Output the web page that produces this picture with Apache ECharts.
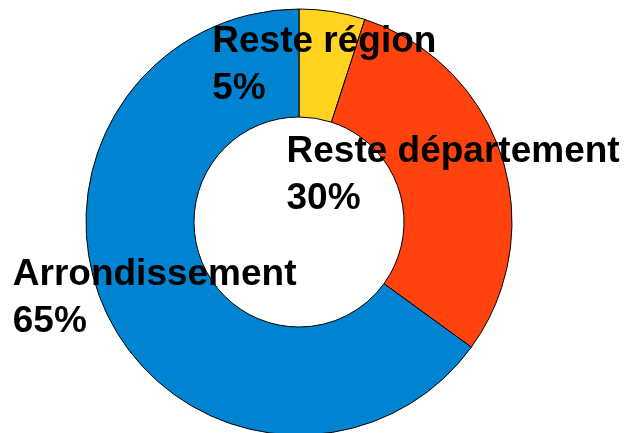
<!DOCTYPE html>
<html>
<head>
<meta charset="utf-8">
<script src="https://cdn.jsdelivr.net/npm/echarts@6/dist/echarts.min.js"></script>
<style>
html,body{margin:0;padding:0;background:#fff;}
#c{width:625px;height:433px;}
</style>
</head>
<body>
<div id="c"></div>
<script>
var categories = ['Reste région', 'Reste département', 'Arrondissement'];
var values = [5, 30, 65];
var colors = ['#FFD320', '#FF420E', '#0084D1'];

var chart = echarts.init(document.getElementById('c'), null, {renderer: 'canvas'});
chart.setOption({
  animation: false,
  backgroundColor: '#ffffff',
  series: [{
    type: 'pie',
    center: [299, 222],
    radius: [105, 213],
    startAngle: 90,
    clockwise: true,
    avoidLabelOverlap: false,
    percentPrecision: 0,
    silent: true,
    itemStyle: {borderColor: '#000000', borderWidth: 1},
    label: {
      show: true,
      position: 'inside',
      formatter: '{b}\n{d}%',
      color: '#000000',
      fontFamily: 'Liberation Sans, Arial, sans-serif',
      fontWeight: 'bold',
      fontSize: 37,
      lineHeight: 47,
      textBorderWidth: 0
    },
    labelLine: {show: false},
    labelLayout: function (p) {
      return {x: p.labelRect.x, y: p.labelRect.y + 3, align: 'left', verticalAlign: 'top'};
    },
    data: categories.map(function (c, i) {
      return {name: c, value: values[i], itemStyle: {color: colors[i]}};
    })
  }]
});
</script>
</body>
</html>
